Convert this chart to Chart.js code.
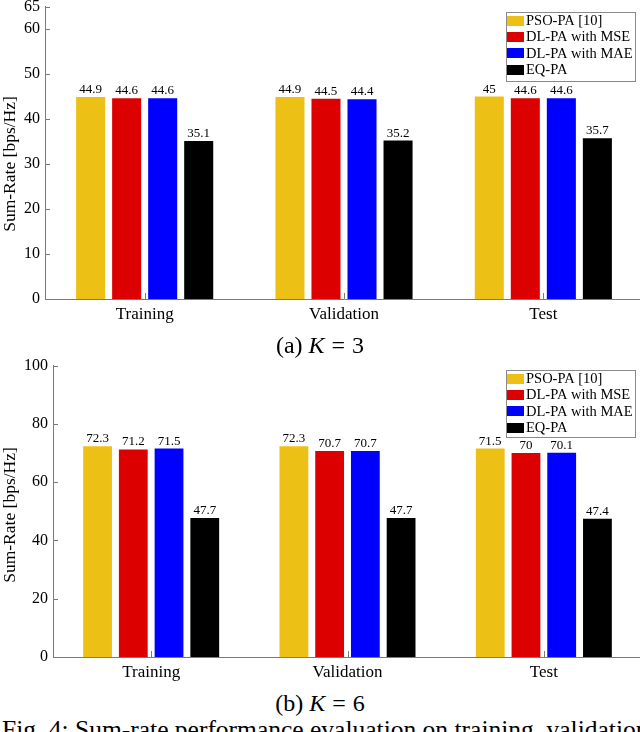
<!DOCTYPE html>
<html><head><meta charset="utf-8">
<script src="https://cdn.jsdelivr.net/npm/chart.js@4/dist/chart.umd.min.js"></script>
<style>
html,body{margin:0;padding:0;background:#fff;width:640px;height:732px;overflow:hidden;position:relative;}
canvas{position:absolute;left:0;}
.cap{position:absolute;left:0;width:640px;text-align:center;font-family:"Liberation Serif",serif;font-size:24px;line-height:24px;color:#000;white-space:nowrap;}
.cap .eq{margin:0 7px;}
.fig{position:absolute;left:2px;top:718px;font-family:"Liberation Serif",serif;font-size:25.5px;line-height:24px;color:#000;white-space:nowrap;}
</style></head><body>
<canvas id="c1" width="660" height="330" style="top:0px"></canvas>
<canvas id="c2" width="660" height="335" style="top:355px"></canvas>
<div class="cap" style="top:333px">(a) <i>K</i><span class="eq">=</span>3</div>
<div class="cap" style="top:691px">(b) <i>K</i><span class="eq">=</span>6</div>
<div class="fig">Fig. 4: Sum-rate performance evaluation on training, validation, and test datasets.</div>
<script>
const categories = ['Training', 'Validation', 'Test'];
const seriesNames = ['PSO-PA [10]', 'DL-PA with MSE', 'DL-PA with MAE', 'EQ-PA'];
const seriesColors = ['#EDC016', '#DD0000', '#0000FF', '#000000'];

const k3_pso = [44.9, 44.9, 45];
const k3_mse = [44.6, 44.5, 44.6];
const k3_mae = [44.6, 44.4, 44.6];
const k3_eq  = [35.1, 35.2, 35.7];

const k6_pso = [72.3, 72.3, 71.5];
const k6_mse = [71.2, 70.7, 70];
const k6_mae = [71.5, 70.7, 70.1];
const k6_eq  = [47.7, 47.7, 47.4];

const k3Ticks = [0, 10, 20, 30, 40, 50, 60, 65];
const k6Ticks = [0, 20, 40, 60, 80, 100];

const yTitle = 'Sum-Rate [bps/Hz]';
const AXIS = '#7a7a7a';
const SERIF = '"Liberation Serif", serif';

const figPlugin = {
  id: 'figPlugin',
  afterDatasetsDraw(chart) {
    const ctx = chart.ctx;
    ctx.save();
    ctx.fillStyle = '#000';
    ctx.font = '13px ' + SERIF;
    ctx.textAlign = 'center';
    ctx.textBaseline = 'alphabetic';
    chart.data.datasets.forEach((ds, di) => {
      const meta = chart.getDatasetMeta(di);
      meta.data.forEach((bar, i) => {
        ctx.fillText(String(ds.data[i]), bar.x, bar.y - 4);
      });
    });
    ctx.restore();
  },
  afterDraw(chart, args, opts) {
    const ctx = chart.ctx;
    const a = chart.chartArea;
    const xs = chart.scales.x, ys = chart.scales.y;
    ctx.save();
    ctx.strokeStyle = AXIS;
    ctx.lineWidth = 1;
    ctx.beginPath();
    ys.ticks.forEach(t => {
      const py = Math.round(ys.getPixelForValue(t.value)) + 0.5;
      if (t.value === ys.min) return;
      ctx.moveTo(a.left, py); ctx.lineTo(a.left + 5, py);
    });
    xs.ticks.forEach((t, i) => {
      const px = Math.round(xs.getPixelForTick(i)) + 0.5;
      ctx.moveTo(px, a.bottom); ctx.lineTo(px, a.bottom - 6);
    });
    ctx.stroke();
    ctx.fillStyle = '#000';
    ctx.font = '17.5px ' + SERIF;
    ctx.textAlign = 'center';
    ctx.textBaseline = 'middle';
    ctx.translate(opts.titleX, opts.titleY);
    ctx.rotate(-Math.PI / 2);
    ctx.fillText(yTitle, 0, 0);
    ctx.setTransform(1, 0, 0, 1, 0, 0);
    const L = opts.legend;
    ctx.fillStyle = '#fff';
    ctx.fillRect(L.x, L.y, L.w, L.h);
    ctx.strokeStyle = '#8a8a8a';
    ctx.strokeRect(L.x + 0.5, L.y + 0.5, L.w, L.h);
    ctx.font = '14.5px ' + SERIF;
    ctx.textAlign = 'left';
    ctx.textBaseline = 'middle';
    chart.data.datasets.forEach((ds, i) => {
      const cy = L.y + 8.5 + i * 16.4;
      ctx.fillStyle = ds.backgroundColor;
      ctx.fillRect(L.x + 1, Math.round(cy - 5), 17, 10);
      ctx.fillStyle = '#000';
      ctx.fillText(ds.label, L.x + 20, cy + 0.5);
    });
    ctx.restore();
  }
};

function makeChart(id, data, ticks, cfg) {
  const datasets = data.map((vals, i) => ({
    label: seriesNames[i],
    data: vals,
    backgroundColor: seriesColors[i],
    borderWidth: 0,
    categoryPercentage: cfg.cp,
    barPercentage: 0.806
  }));
  return new Chart(document.getElementById(id), {
    type: 'bar',
    data: { labels: categories, datasets },
    plugins: [figPlugin],
    options: {
      responsive: false,
      animation: false,
      devicePixelRatio: 1,
      layout: { padding: { top: cfg.top, right: cfg.right, left: 0, bottom: 0 } },
      plugins: {
        legend: { display: false },
        tooltip: { enabled: false },
        figPlugin: { legend: cfg.legend, titleX: 10, titleY: cfg.titleY }
      },
      scales: {
        x: {
          grid: { display: false, drawTicks: false },
          border: { display: true, color: AXIS, width: 1 },
          ticks: { color: '#000', font: { family: SERIF, size: 17 }, padding: cfg.xpad, maxRotation: 0 },
          afterFit(s) { s.height = cfg.xh; s.paddingLeft = 0; s.paddingRight = 0; }
        },
        y: {
          min: 0, max: ticks[ticks.length - 1],
          grid: { display: false, drawTicks: false },
          border: { display: true, color: AXIS, width: 1 },
          ticks: { color: '#000', font: { family: SERIF, size: 16 }, padding: 5 },
          afterBuildTicks(s) { s.ticks = ticks.map(v => ({ value: v })); },
          afterFit(s) { s.width = cfg.yw; s.paddingTop = 0; s.paddingBottom = 0; }
        }
      }
    }
  });
}

makeChart('c1', [k3_pso, k3_mse, k3_mae, k3_eq], k3Ticks, {
  cp: 0.723, top: 6.5, right: 17, yw: 45, xh: 31, xpad: 5,
  titleY: 164, legend: { x: 506, y: 12, w: 129, h: 69 }
});
makeChart('c2', [k6_pso, k6_mse, k6_mae, k6_eq], k6Ticks, {
  cp: 0.728, top: 10.5, right: 18, yw: 53, xh: 33, xpad: 5,
  titleY: 160, legend: { x: 506, y: 15, w: 129, h: 67 }
});
</script>
</body></html>
